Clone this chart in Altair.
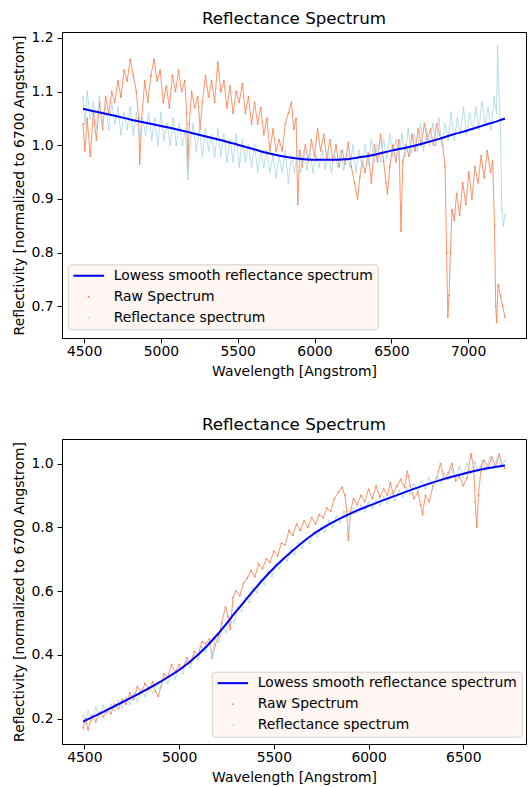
import altair as alt
import pandas as pd

SERIES = ["Lowess smooth reflectance spectrum", "Raw Spectrum", "Reflectance spectrum"]
COLORS = ["#0000ff", "#ff7f50", "#add8e6"]
# legend / marker glyphs (unit paths scaled by sqrt(size)/2)
LINE_GLYPH = "M-2.55,-0.17H2.55V0.17H-2.55Z"
DOT_GLYPH = "M-0.15,0A0.15,0.15,0,1,1,0.15,0A0.15,0.15,0,1,1,-0.15,0Z"
SHAPES = [LINE_GLYPH, DOT_GLYPH, DOT_GLYPH]

# ---------------- top panel ----------------
TOP_RAW = [(4493,1.04),(4505,0.99),(4520,1.05),(4540,0.98),(4560,1.06),(4580,1.01),(4600,1.08),(4620,1.03),
 (4640,1.09),(4660,1.06),(4680,1.10),(4700,1.08),(4720,1.12),(4740,1.09),(4760,1.14),(4780,1.12),(4800,1.16),
 (4820,1.13),(4840,1.10),(4855,1.05),(4862,0.965),(4875,1.05),(4895,1.12),(4915,1.08),(4935,1.13),(4955,1.16),
 (4975,1.12),(4995,1.14),(5015,1.08),(5035,1.11),(5055,1.07),(5075,1.13),(5095,1.10),(5115,1.14),(5135,1.10),
 (5155,1.12),(5168,1.06),(5175,0.955),(5185,1.04),(5200,1.10),(5220,1.07),(5240,1.09),(5255,1.03),(5270,1.08),
 (5290,1.13),(5310,1.09),(5330,1.12),(5350,1.08),(5370,1.155),(5390,1.10),(5410,1.12),(5430,1.07),(5450,1.11),
 (5470,1.06),(5490,1.10),(5510,1.08),(5530,1.115),(5550,1.06),(5570,1.09),(5590,1.04),(5610,1.08),(5630,1.04),
 (5650,1.07),(5670,1.02),(5690,1.05),(5710,0.99),(5730,1.03),(5750,0.99),(5770,1.01),(5790,0.99),(5810,1.04),
 (5830,1.06),(5850,1.08),(5865,1.03),(5880,1.05),(5891,0.89),(5905,0.99),(5920,0.96),(5940,1.00),(5960,0.97),
 (5980,1.01),(6000,0.98),(6020,1.03),(6040,0.99),(6060,1.02),(6080,0.975),(6100,1.01),(6120,0.97),(6140,1.00),
 (6160,0.96),(6180,0.99),(6200,0.965),(6220,1.005),(6240,0.96),(6260,0.93),(6280,0.90),(6295,0.94),(6310,0.97),
 (6330,0.95),(6350,0.985),(6370,0.93),(6390,1.00),(6410,0.97),(6430,1.02),(6450,0.97),(6465,0.93),(6475,0.91),
 (6490,0.96),(6510,1.00),(6530,0.97),(6550,1.01),(6563,0.84),(6575,0.97),(6595,1.00),(6615,0.98),(6635,1.02),
 (6655,0.99),(6675,1.03),(6695,1.00),(6715,1.04),(6735,1.01),(6755,1.03),(6775,1.00),(6795,1.04),(6815,1.02),
 (6835,1.00),(6850,0.96),(6860,0.80),(6868,0.68),(6876,0.72),(6885,0.80),(6895,0.88),(6910,0.86),(6925,0.91),
 (6945,0.87),(6965,0.93),(6985,0.89),(7005,0.95),(7025,0.90),(7045,0.96),(7065,0.93),(7085,0.98),(7105,0.94),
 (7125,0.99),(7145,0.95),(7160,0.97),(7172,0.85),(7180,0.70),(7186,0.67),(7195,0.74),(7210,0.72),(7225,0.70),
 (7240,0.68)]

TOP_REFL = [(4493,1.09),(4505,1.04),(4520,1.10),(4540,1.05),(4560,1.08),(4580,1.03),(4600,1.09),(4620,1.04),
 (4640,1.07),(4660,1.03),(4680,1.08),(4700,1.04),(4720,1.07),(4740,1.02),(4760,1.06),(4780,1.03),(4800,1.07),
 (4820,1.02),(4840,1.06),(4860,1.01),(4880,1.05),(4900,1.02),(4920,1.06),(4940,1.01),(4960,1.05),(4980,1.00),
 (5000,1.06),(5020,1.01),(5040,1.04),(5060,1.00),(5080,1.05),(5100,1.00),(5120,1.04),(5140,1.00),(5160,1.03),
 (5175,0.937),(5190,1.00),(5210,1.04),(5230,0.99),(5250,1.03),(5270,0.98),(5290,1.03),(5310,0.99),(5330,1.02),
 (5350,0.98),(5370,1.03),(5390,0.98),(5410,1.02),(5430,0.97),(5450,1.01),(5470,0.97),(5490,1.02),(5510,0.96),
 (5530,1.01),(5550,0.97),(5570,1.00),(5590,0.96),(5610,1.00),(5630,0.95),(5650,0.99),(5670,0.96),(5690,0.99),
 (5710,0.95),(5730,0.98),(5750,0.94),(5770,0.98),(5790,0.95),(5810,0.99),(5830,0.93),(5850,0.98),(5870,0.95),
 (5890,0.99),(5910,0.95),(5930,0.99),(5950,0.955),(5970,0.99),(5990,0.95),(6010,0.98),(6030,0.96),(6050,0.99),
 (6070,0.955),(6090,0.99),(6110,0.95),(6130,0.985),(6150,0.96),(6170,0.99),(6190,0.955),(6210,0.99),(6230,0.96),
 (6250,1.00),(6270,0.95),(6290,0.99),(6310,0.96),(6330,1.00),(6350,0.965),(6370,1.01),(6390,0.97),(6410,1.00),
 (6430,0.97),(6450,1.01),(6470,0.975),(6490,1.02),(6510,0.98),(6530,1.01),(6550,0.975),(6570,1.02),(6590,0.98),
 (6610,1.03),(6630,0.985),(6650,1.02),(6670,0.99),(6690,1.04),(6710,0.99),(6730,1.03),(6750,1.00),(6770,1.04),
 (6790,1.00),(6810,1.05),(6830,1.00),(6850,1.04),(6870,1.01),(6890,1.06),(6910,1.01),(6930,1.05),(6950,1.02),
 (6970,1.07),(6990,1.02),(7010,1.06),(7030,1.03),(7050,1.07),(7070,1.03),(7090,1.08),(7110,1.04),(7130,1.07),
 (7150,1.03),(7170,1.09),(7185,1.06),(7192,1.185),(7200,1.10),(7210,1.04),(7220,0.88),(7230,0.85),(7240,0.87)]

TOP_LOWESS = [(4493,1.068),(4600,1.061),(4700,1.055),(4800,1.048),(4900,1.042),(5000,1.036),(5100,1.030),
 (5200,1.023),(5300,1.016),(5400,1.009),(5500,1.001),(5600,0.993),(5700,0.985),(5800,0.979),(5900,0.975),
 (6000,0.973),(6100,0.973),(6200,0.974),(6300,0.978),(6400,0.983),(6500,0.990),(6600,0.996),(6700,1.003),
 (6800,1.011),(6900,1.020),(7000,1.028),(7100,1.037),(7200,1.046),(7240,1.050)]

# ---------------- bottom panel ----------------
BOT_RAW = [(4493,0.17),(4505,0.20),(4520,0.165),(4540,0.21),(4560,0.19),(4580,0.22),(4600,0.205),(4620,0.23),
 (4640,0.215),(4660,0.245),(4680,0.23),(4700,0.26),(4720,0.245),(4740,0.28),(4760,0.26),(4780,0.30),(4800,0.28),
 (4820,0.31),(4840,0.29),(4860,0.315),(4875,0.285),(4890,0.27),(4905,0.30),(4920,0.34),(4940,0.33),(4960,0.37),
 (4980,0.345),(5000,0.37),(5020,0.355),(5040,0.39),(5060,0.375),(5080,0.41),(5100,0.40),(5120,0.44),(5140,0.435),
 (5160,0.45),(5175,0.39),(5190,0.43),(5210,0.46),(5225,0.50),(5245,0.55),(5258,0.52),(5270,0.48),(5285,0.58),
 (5300,0.60),(5320,0.585),(5340,0.625),(5360,0.64),(5380,0.665),(5400,0.645),(5420,0.685),(5440,0.67),(5460,0.70),
 (5480,0.69),(5500,0.725),(5520,0.71),(5540,0.75),(5560,0.745),(5580,0.79),(5600,0.775),(5620,0.81),(5640,0.79),
 (5660,0.82),(5680,0.80),(5700,0.83),(5720,0.81),(5740,0.84),(5760,0.83),(5780,0.86),(5800,0.85),(5820,0.89),
 (5840,0.91),(5860,0.925),(5875,0.90),(5885,0.85),(5893,0.76),(5905,0.85),(5920,0.89),(5940,0.87),(5960,0.90),
 (5980,0.88),(6000,0.92),(6020,0.89),(6040,0.93),(6060,0.895),(6080,0.92),(6100,0.90),(6115,0.94),(6130,0.905),
 (6150,0.93),(6170,0.95),(6190,0.925),(6205,0.975),(6220,0.93),(6240,0.89),(6260,0.91),(6275,0.87),(6285,0.84),
 (6300,0.90),(6320,0.88),(6340,0.93),(6360,0.955),(6380,1.00),(6400,0.95),(6420,0.97),(6440,1.00),(6460,0.945),
 (6480,0.96),(6500,0.93),(6520,0.955),(6540,1.03),(6555,0.99),(6563,0.88),(6571,0.80),(6580,0.90),(6595,0.99),
 (6610,1.01),(6630,0.985),(6650,1.02),(6670,0.99),(6690,1.03),(6705,0.995),(6720,0.985)]

BOT_REFL = [(4493,0.21),(4505,0.185),(4520,0.225),(4540,0.195),(4560,0.235),(4580,0.205),(4600,0.24),(4620,0.215),
 (4640,0.245),(4660,0.225),(4680,0.255),(4700,0.235),(4720,0.265),(4740,0.245),(4760,0.28),(4780,0.255),(4800,0.29),
 (4820,0.27),(4840,0.30),(4860,0.28),(4880,0.31),(4900,0.29),(4920,0.33),(4940,0.31),(4960,0.345),(4980,0.325),
 (5000,0.36),(5020,0.34),(5040,0.38),(5060,0.36),(5080,0.40),(5100,0.385),(5120,0.425),(5140,0.41),(5160,0.44),
 (5175,0.395),(5190,0.45),(5210,0.44),(5230,0.49),(5250,0.47),(5270,0.515),(5290,0.50),(5310,0.55),(5330,0.535),
 (5350,0.58),(5370,0.565),(5390,0.61),(5410,0.595),(5430,0.635),(5450,0.62),(5470,0.66),(5490,0.645),(5510,0.685),
 (5530,0.67),(5550,0.705),(5570,0.695),(5590,0.73),(5610,0.715),(5630,0.75),(5650,0.735),(5670,0.765),(5690,0.75),
 (5710,0.785),(5730,0.77),(5750,0.80),(5770,0.785),(5790,0.82),(5810,0.80),(5830,0.835),(5850,0.815),(5870,0.85),
 (5885,0.83),(5893,0.79),(5905,0.84),(5920,0.86),(5940,0.845),(5960,0.87),(5980,0.85),(6000,0.88),(6020,0.86),
 (6040,0.885),(6060,0.87),(6080,0.895),(6100,0.875),(6120,0.905),(6140,0.885),(6160,0.915),(6180,0.895),(6200,0.925),
 (6220,0.905),(6240,0.935),(6260,0.915),(6280,0.945),(6300,0.92),(6320,0.955),(6340,0.93),(6360,0.96),(6380,0.94),
 (6400,0.97),(6420,0.95),(6440,0.985),(6460,0.955),(6480,0.99),(6500,0.96),(6520,1.00),(6540,0.97),(6560,1.005),
 (6580,0.975),(6600,1.01),(6620,0.98),(6640,1.02),(6660,0.985),(6680,1.02),(6700,0.99),(6720,1.01)]

BOT_LOWESS = [(4493,0.190),(4600,0.221),(4700,0.251),(4800,0.282),(4900,0.315),(5000,0.352),(5100,0.400),
 (5200,0.462),(5300,0.535),(5400,0.607),(5500,0.672),(5600,0.727),(5700,0.775),(5800,0.812),(5900,0.842),
 (6000,0.867),(6100,0.890),(6200,0.912),(6300,0.933),(6400,0.952),(6500,0.968),(6600,0.982),(6700,0.992),
 (6720,0.994)]

TOP_XTICKS = [4500, 5000, 5500, 6000, 6500, 7000]
TOP_YTICKS = [0.7, 0.8, 0.9, 1.0, 1.1, 1.2]
BOT_XTICKS = [4500, 5000, 5500, 6000, 6500]
BOT_YTICKS = [0.2, 0.4, 0.6, 0.8, 1.0]

FONT = "DejaVu Sans"
LOW = SERIES[0]


def frame(raw, refl, low):
    rows = []
    for name, pts in ((SERIES[1], raw), (SERIES[2], refl), (SERIES[0], low)):
        for w, v in pts:
            rows.append({"wavelength": w, "value": v, "series": name})
    return pd.DataFrame(rows)


def panel(raw, refl, low, xdom, ydom, xticks, yticks, lx, ly, h, title_offset):
    df = frame(raw, refl, low)

    def legend():
        return alt.Legend(
            title=None, orient="none", legendX=lx, legendY=ly,
            fillColor="#fdf6f2", strokeColor="#d0d0d0", cornerRadius=3,
            padding=4.5, labelFont=FONT, labelFontSize=13.9, labelColor="black",
            symbolSize=144, symbolStrokeWidth=0, symbolOffset=9.5, labelOffset=18,
            rowPadding=6, labelLimit=400, symbolOpacity=1,
        )

    x = alt.X("wavelength:Q", scale=alt.Scale(domain=xdom, nice=False, zero=False),
              axis=alt.Axis(values=xticks, format="d", title="Wavelength [Angstrom]"))
    y = alt.Y("value:Q", scale=alt.Scale(domain=ydom, nice=False, zero=False),
              axis=alt.Axis(values=yticks, format=".1f", title="Reflectivity [normalized to 6700 Angstrom]"))
    color = alt.Color("series:N", scale=alt.Scale(domain=SERIES, range=COLORS), legend=legend())
    shape = alt.Shape("series:N", scale=alt.Scale(domain=SERIES, range=SHAPES), legend=legend())
    base = alt.Chart(df).encode(x=x, y=y, color=color)
    layers = []
    for name in (SERIES[1], SERIES[2]):
        sub = base.transform_filter(alt.datum.series == name)
        layers.append(sub.mark_line(strokeWidth=1.0, opacity=0.85, clip=True))
        layers.append(sub.mark_point(filled=True, size=144, opacity=1, strokeWidth=0, clip=True)
                      .encode(shape=shape))
    layers.append(base.transform_filter(alt.datum.series == LOW)
                  .mark_line(strokeWidth=2, interpolate="monotone", clip=True))
    return alt.layer(*layers).properties(
        width=464, height=h,
        title=alt.TitleParams("Reflectance Spectrum", offset=title_offset))


top = panel(TOP_RAW, TOP_REFL, TOP_LOWESS, [4356, 7377], [0.641, 1.211],
            TOP_XTICKS, TOP_YTICKS, 5.8, 232.3, 306, 3)
bottom = panel(BOT_RAW, BOT_REFL, BOT_LOWESS, [4382, 6831], [0.12, 1.077],
               BOT_XTICKS, BOT_YTICKS, 149.8, 232.7, 305, 5)

chart = (
    alt.vconcat(top, bottom, spacing=36)
    .resolve_scale(color="independent", shape="independent")
    .resolve_legend(color="independent", shape="independent")
    .properties(padding={"left": 11, "top": 10, "right": 2, "bottom": 2})
    .configure(font=FONT)
    .configure_view(stroke="black", strokeWidth=1)
    .configure_axis(grid=False, domainColor="black", tickColor="black", labelColor="black",
                    titleColor="black", labelFont=FONT, titleFont=FONT, labelFontSize=13.9,
                    titleFontSize=13.9, titleFontWeight="normal", tickSize=5)
    .configure_axisX(labelPadding=1, titlePadding=7)
    .configure_axisY(labelPadding=4, titlePadding=4.5)
    .configure_title(font=FONT, fontSize=16.7, fontWeight="normal", color="black")
)

chart.save("out.html", embed_options={"renderer": "svg", "actions": False})
